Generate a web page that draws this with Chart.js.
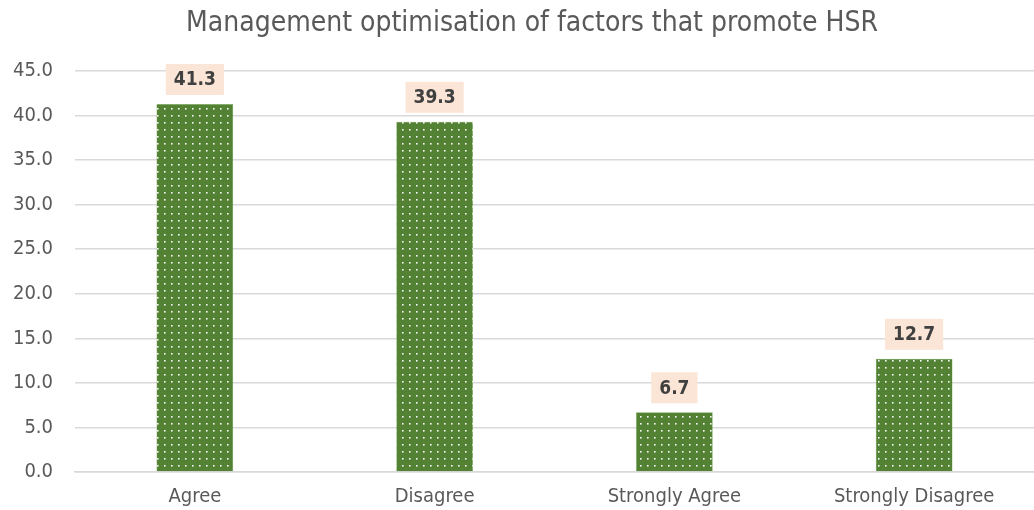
<!DOCTYPE html>
<html>
<head>
<meta charset="utf-8">
<script src="https://cdn.jsdelivr.net/npm/chart.js@4"></script>
<style>
  html, body { margin: 0; padding: 0; background: #fff; }
  #wrap { width: 1034px; height: 510px; }
</style>
</head>
<body>
<div id="wrap"><canvas id="hsrChart"></canvas></div>
<script>
const categories = ['Agree', 'Disagree', 'Strongly Agree', 'Strongly Disagree'];
const percentValues = [41.3, 39.3, 6.7, 12.7];
const yTicks = [0, 5, 10, 15, 20, 25, 30, 35, 40, 45];
const chartTitle = 'Management optimisation of factors that promote HSR';

const FONT = "'DejaVu Sans Condensed', 'DejaVu Sans', sans-serif";
const TEXT_GREY = '#595959';

// dotted green fill like the Excel pattern
function makeDotPattern() {
    const tile = document.createElement('canvas');
    tile.width = 7;
    tile.height = 7;
    const t = tile.getContext('2d');
    t.fillStyle = '#548235';
    t.fillRect(0, 0, 7, 7);
    t.fillStyle = 'rgba(255,255,255,0.95)';
    t.fillRect(3, 3, 1.6, 1.6);
    return t.createPattern(tile, 'repeat');
}

// title drawn by hand so it sits where Excel put it
const titleText = {
    id: 'titleText',
    afterDraw(chart) {
        const ctx = chart.ctx;
        ctx.save();
        ctx.font = "28px " + FONT;
        ctx.fillStyle = TEXT_GREY;
        ctx.textAlign = 'center';
        ctx.textBaseline = 'middle';
        ctx.fillText(chartTitle, 532, 24);
        ctx.restore();
    }
};

// peach boxes with the value above each bar
const valueBoxes = {
    id: 'valueBoxes',
    afterDatasetsDraw(chart) {
        const ctx = chart.ctx;
        const meta = chart.getDatasetMeta(0);
        ctx.save();
        ctx.font = "bold 19px " + FONT;
        ctx.textAlign = 'center';
        ctx.textBaseline = 'middle';
        meta.data.forEach((bar, i) => {
            const txt = percentValues[i].toFixed(1);
            const w = ctx.measureText(txt).width + 16;
            const h = 31;
            const bottom = bar.y - 9;
            ctx.fillStyle = '#FBE5D6';
            ctx.fillRect(bar.x - w / 2, bottom - h, w, h);
            ctx.fillStyle = '#404040';
            ctx.fillText(txt, bar.x, bottom - h / 2 + 1);
        });
        ctx.restore();
    }
};

document.addEventListener('DOMContentLoaded', () => {
    const ctx = document.getElementById('hsrChart').getContext('2d');
    new Chart(ctx, {
        type: 'bar',
        data: {
            labels: categories,
            datasets: [{
                label: 'Percent',
                data: percentValues,
                backgroundColor: makeDotPattern(),
                borderColor: '#70AD47',
                borderWidth: 0.5,
                barPercentage: 0.32,
                categoryPercentage: 1
            }]
        },
        options: {
            responsive: true,
            maintainAspectRatio: false,
            animation: false,
            layout: { padding: { left: 0, right: 0, top: 71, bottom: 2 } },
            plugins: {
                legend: { display: false },
                tooltip: { enabled: false },
                title: { display: false }
            },
            scales: {
                y: {
                    min: 0,
                    max: 45,
                    afterBuildTicks: (scale) => { scale.ticks = yTicks.map(v => ({ value: v })); },
                    afterFit: (scale) => { scale.width = 75; },
                    ticks: {
                        color: TEXT_GREY,
                        font: { family: FONT, size: 20 },
                        padding: 22,
                        callback: (v) => Number(v).toFixed(1)
                    },
                    grid: { color: '#D9D9D9', lineWidth: 1.5, drawTicks: false },
                    border: { display: false }
                },
                x: {
                    afterFit: (scale) => { scale.height = 36; },
                    ticks: {
                        color: TEXT_GREY,
                        font: { family: FONT, size: 20 },
                        padding: 13,
                        maxRotation: 0
                    },
                    grid: { display: false, drawTicks: false },
                    border: { color: '#D9D9D9', width: 1.5 }
                }
            }
        },
        plugins: [valueBoxes, titleText]
    });
});
</script>
</body>
</html>
